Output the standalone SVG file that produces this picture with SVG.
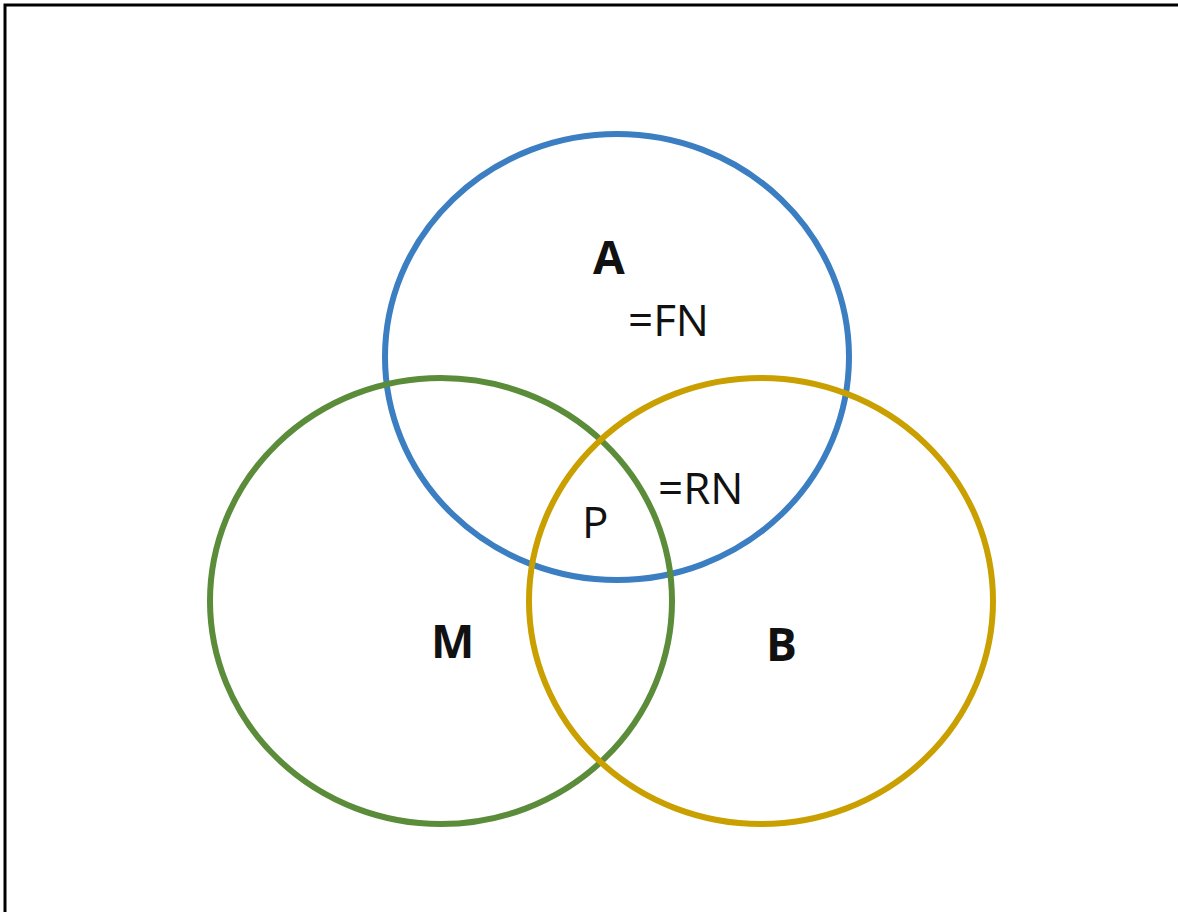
<svg xmlns="http://www.w3.org/2000/svg" width="1178" height="912" viewBox="0 0 1178 912">
<style>
.c{fill:none;stroke-width:6}
.t{font-family:"Open Sans","Noto Sans",sans-serif;font-size:44px;fill:#111}
.b{font-weight:bold;font-size:46px}
</style>
<rect width="1178" height="912" fill="#fff"/>
<path d="M5,912 V5 H1178" fill="none" stroke="#000" stroke-width="3"/>
<g id="A"><ellipse class="c" cx="617" cy="357" rx="232" ry="223" stroke="#3b7ec2"/></g>
<g id="M"><ellipse class="c" cx="441" cy="601" rx="231" ry="223" stroke="#5a8c3a"/></g>
<g id="B"><ellipse class="c" cx="761" cy="601" rx="232" ry="223" stroke="#c9a000"/></g>
<g id="labels">
<text class="t b" x="593" y="274">A</text>
<text class="t" x="628" y="336">=FN</text>
<text class="t" x="658" y="504">=RN</text>
<text class="t" x="582" y="538">P</text>
<text class="t b" x="431" y="658">M</text>
<text class="t b" x="766" y="661">B</text>
</g>
</svg>
